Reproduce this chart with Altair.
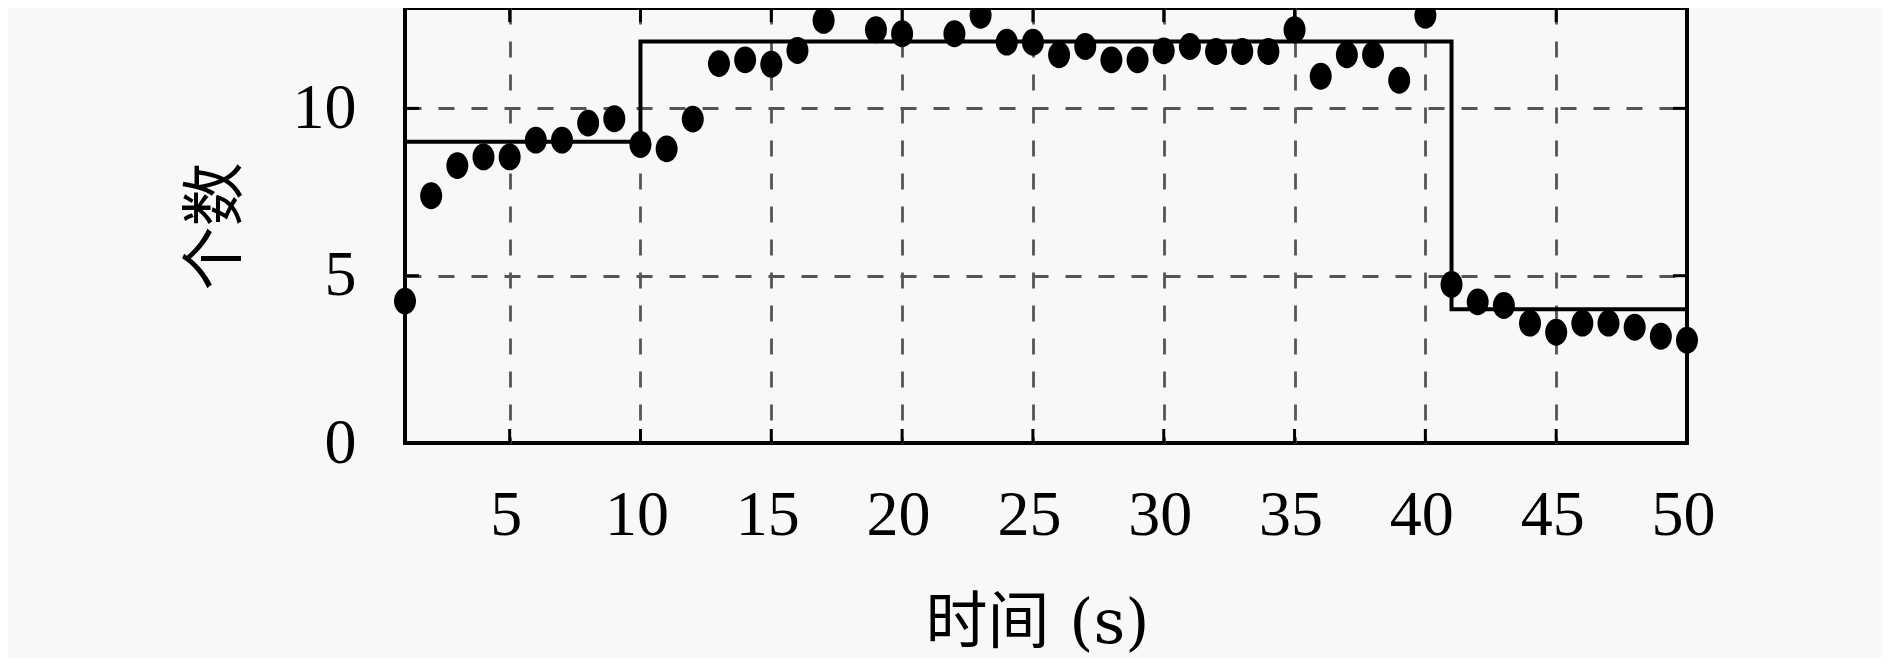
import altair as alt
import pandas as pd

# ---- data ----
time_s = [1, 2, 3, 4, 5, 6, 7, 8, 9, 10, 11, 12, 13, 14, 15, 16, 17, 19, 20,
          22, 23, 24, 25, 26, 27, 28, 29, 30, 31, 32, 33, 34, 35, 36, 37, 38,
          39, 40, 41, 42, 43, 44, 45, 46, 47, 48, 49, 50]
counts = [4.24, 7.39, 8.29, 8.55, 8.55, 9.05, 9.05, 9.56, 9.69, 8.92, 8.79,
          9.68, 11.34, 11.45, 11.32, 11.73, 12.63, 12.35, 12.23,
          12.23, 12.78, 11.98, 11.98, 11.60, 11.85, 11.45, 11.45, 11.72, 11.85,
          11.70, 11.70, 11.70, 12.35, 10.96, 11.60, 11.60, 10.84, 12.78,
          4.74, 4.22, 4.11, 3.58, 3.31, 3.58, 3.58, 3.46, 3.19, 3.07]
step_t = [1, 10, 41, 50]
step_v = [9, 12, 4, 4]
x_ticks = [5, 10, 15, 20, 25, 30, 35, 40, 45, 50]
y_ticks = [0, 5, 10]
x_inner_ticks = [5, 10, 15, 20, 25, 30, 35, 40, 45]
y_inner_ticks = [5, 10]

W, H = 1282, 435
TL = 14
FONT = "Liberation Serif"
CJK = "DejaVu Serif, Noto Sans CJK SC"
BG = "#f8f8f8"

xs = alt.Scale(domain=[1, 50], nice=False, zero=False)
ys = alt.Scale(domain=[0, 13], nice=False, zero=False)

grid_common = dict(grid=True, gridColor="#555555", gridDash=[16, 17], gridWidth=2.8,
                   tickSize=0, domain=False, labelFont=FONT, labelFontSize=64,
                   labelColor="black", titleColor="black", titleFontWeight="normal")

x_axis = alt.Axis(values=x_ticks, title="时间 (s)", labelBaseline="alphabetic",
                  labelPadding=91, labelFlush=False, labelOffset=-4,
                  gridOpacity={"condition": {"test": "datum.value === 50", "value": 0}, "value": 1},
                  titleFont=CJK, titleFontSize=62, titleX=632, titleY=199,
                  titleBaseline="alphabetic", titleAlign="center", **grid_common)
y_axis = alt.Axis(values=y_ticks, title="个数", labelPadding=49,
                  gridOpacity={"condition": {"test": "datum.value === 0", "value": 0}, "value": 1},
                  titleFont="Noto Sans CJK SC", titleFontSize=64, titleX=-189, titleY=218,
                  titleBaseline="middle", titleAlign="center", titleAngle=270, **grid_common)

pts_df = pd.DataFrame({"t": time_s, "n": counts})
step_df = pd.DataFrame({"t": step_t, "n": step_v})
xt_df = pd.DataFrame({"t": x_inner_ticks})
yt_df = pd.DataFrame({"n": y_inner_ticks})

ellipse = ("M0,-1 C0.4529,-1 0.82,-0.5523 0.82,0 C0.82,0.5523 0.4529,1 0,1 "
           "C-0.4529,1 -0.82,0.5523 -0.82,0 C-0.82,-0.5523 -0.4529,-1 0,-1 Z")

X = alt.X("t:Q", scale=xs, axis=x_axis)
Y = alt.Y("n:Q", scale=ys, axis=y_axis)

points = alt.Chart(pts_df).mark_point(filled=True, shape=ellipse, size=720,
                                      color="black", opacity=1).encode(x=X, y=Y)

step = alt.Chart(step_df).mark_line(interpolate="step-after", color="black",
                                    strokeWidth=4).encode(x=X, y=Y)

tick_style = dict(color="black", strokeWidth=3)
bottom_ticks = alt.Chart(xt_df).mark_rule(**tick_style).encode(
    x=X, y=alt.value(H - TL), y2=alt.value(H))
top_ticks = alt.Chart(xt_df).mark_rule(**tick_style).encode(
    x=X, y=alt.value(0), y2=alt.value(TL))
left_ticks = alt.Chart(yt_df).mark_rule(**tick_style).encode(
    y=Y, x=alt.value(0), x2=alt.value(TL))
right_ticks = alt.Chart(yt_df).mark_rule(**tick_style).encode(
    y=Y, x=alt.value(W - TL), x2=alt.value(W))

chart = alt.layer(
    bottom_ticks, top_ticks, left_ticks, right_ticks, step, points
).properties(
    width=W, height=H,
    padding={"left": 397, "top": 0, "right": 195, "bottom": 215},
    autosize=alt.AutoSizeParams(type="none"),
    background=BG,
).configure_view(
    stroke="black", strokeWidth=4
)

chart.save("out.html", embed_options={"renderer": "svg", "actions": False})
